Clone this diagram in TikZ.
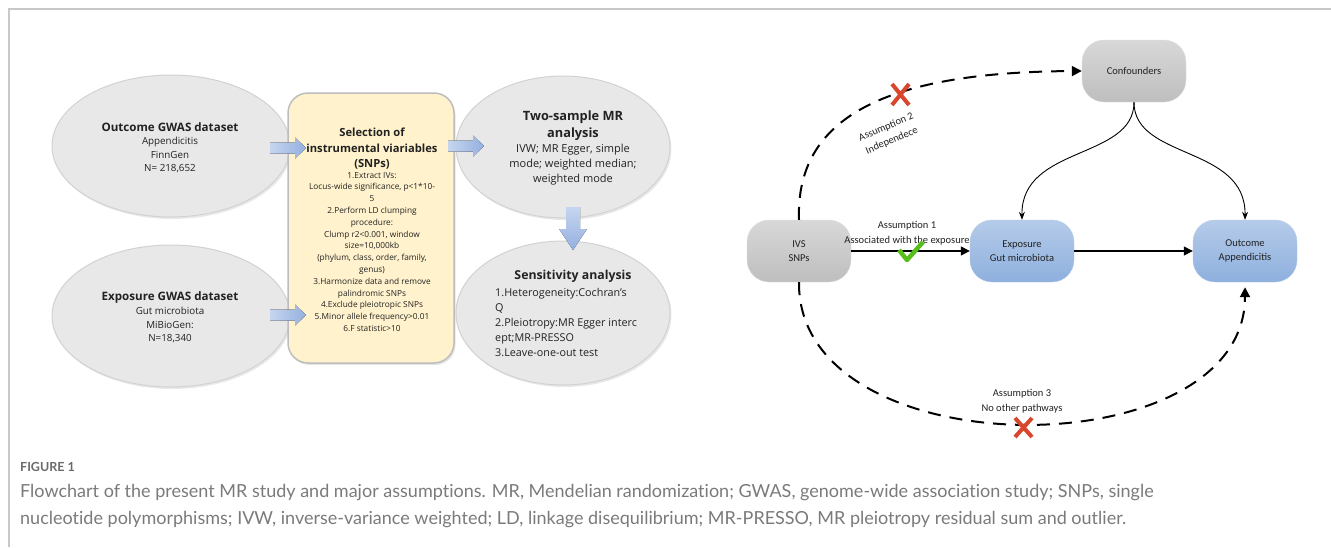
\documentclass[tikz,border=0pt]{standalone}
\usepackage{fontspec}
\setmainfont{Open Sans}
\newfontfamily\cali{Carlito}
\newfontfamily\capfont[Ligatures=NoCommon]{Lato}
\usetikzlibrary{shapes.geometric,arrows.meta,shadows}
\definecolor{ellfill}{HTML}{E8E8E8}
\definecolor{elldraw}{HTML}{D2D2D2}
\definecolor{yelfill}{HTML}{FFF2CC}
\definecolor{yeldraw}{HTML}{BDBDBD}
\definecolor{arrL}{HTML}{C6D5EF}
\definecolor{arrR}{HTML}{94B0DF}
\definecolor{grayT}{HTML}{D8D8D8}
\definecolor{grayB}{HTML}{BEBEBE}
\definecolor{blueT}{HTML}{B5CBE9}
\definecolor{blueB}{HTML}{8EB0DE}
\definecolor{xred}{HTML}{D8462C}
\definecolor{okgreen}{HTML}{57BE1C}
\definecolor{captext}{HTML}{7A7A7A}
\definecolor{capbold}{HTML}{6A6A6A}
\definecolor{framec}{HTML}{C8C8C8}
\definecolor{txt}{HTML}{222222}
\tikzset{
  ell/.style={ellipse, fill=ellfill, draw=elldraw, line width=1pt,
    drop shadow={opacity=0.18, shadow xshift=1.5pt, shadow yshift=-2pt}},
  selbox/.style={rectangle, rounded corners=20pt, fill=yelfill, draw=yeldraw, line width=1.5pt,
    drop shadow={opacity=0.2, shadow xshift=1.5pt, shadow yshift=-2pt}},
  rgray/.style={rectangle, rounded corners=22pt, minimum width=104pt, minimum height=62pt,
    top color=grayT, bottom color=grayB, draw=grayT!80, line width=0.4pt,
    font=\cali\fontsize{10.5}{14.5}\selectfont, text=txt, align=center},
  rblue/.style={rgray, top color=blueT, bottom color=blueB, draw=blueT},
  lbl/.style={font=\cali\fontsize{10.5}{14.5}\selectfont, text=txt, align=center, inner sep=0pt},
  ttl/.style={align=center, text=txt, inner sep=0pt},
  solidarr/.style={-{Triangle[length=9pt,width=9pt]}, line width=1.4pt, black},
  thinarr/.style={-{Stealth[length=8pt,width=6pt]}, line width=0.9pt, black},
  dasharr/.style={-{Triangle[length=10pt,width=10pt]}, line width=2pt, dash pattern=on 13pt off 9pt, black},
  xmark/.style={xred, line width=4pt, line cap=butt},
  blockfill/.style={left color=arrL, right color=arrR},
  blockfillv/.style={top color=arrL, bottom color=arrR},
  harrow/.pic={\fill[blockfill] (0,-5.5) -- (25,-5.5) -- (25,-10.5) -- (36,0) -- (25,10.5) -- (25,5.5) -- (0,5.5) -- cycle;},
  varrow/.pic={\fill[blockfillv] (-7,0) -- (-7,22) -- (-14,22) -- (0,43) -- (14,22) -- (7,22) -- (7,0) -- cycle;},
}
\begin{document}
\begin{tikzpicture}[x=1pt,y=-1pt]
\useasboundingbox (0,0) rectangle (1331,547);
\draw[framec, line width=1.2pt] (9,547) -- (9,9) -- (1331,9);

% left flowchart
\node[ell, minimum width=238pt, minimum height=142pt] (outds) at (171,146) {};
\node[ell, minimum width=238pt, minimum height=142pt] (expds) at (171,316) {};
\node[ell, minimum width=214pt, minimum height=142pt] (twos) at (563,147) {};
\node[ell, minimum width=214pt, minimum height=144pt] (sens) at (563,313) {};
\node[selbox, minimum width=166pt, minimum height=270pt] (sel) at (371,228) {};

\node[ttl, font=\fontsize{11.6}{15}\selectfont\bfseries] (outdst) at (170,127) {Outcome GWAS dataset};
\node[ttl, font=\fontsize{9.8}{13.5}\selectfont, anchor=north] (outdsb) at (170,137) {Appendicitis\\FinnGen\\N= 218,652};
\node[ttl, font=\fontsize{11.6}{15}\selectfont\bfseries] (expdst) at (170,297) {Exposure GWAS dataset};
\node[ttl, font=\fontsize{9.8}{13.5}\selectfont, anchor=north] (expdsb) at (170,307) {Gut microbiota\\MiBioGen:\\N=18,340};

\node[ttl, font=\fontsize{11.2}{15.5}\selectfont\bfseries] (selt) at (372,149) {Selection of\\instrumental viariables\\(SNPs)};
\node[ttl, font=\fontsize{8.3}{11.8}\selectfont, anchor=north] (selb) at (372,172)
 {1.Extract IVs:\\Locus-wide significance, p<1*10-\\5\\2.Perform LD clumping\\procedure:\\Clump r2<0.001, window\\size=10,000kb\\(phylum, class, order, family,\\genus)\\3.Harmonize data and remove\\palindromic SNPs\\4.Exclude pleiotropic SNPs\\5.Minor allele frequency>0.01\\6.F statistic>10};

\node[ttl, font=\fontsize{12.8}{17}\selectfont\bfseries] (twost) at (573,126) {Two-sample MR\\analysis};
\node[ttl, font=\fontsize{11}{15}\selectfont, anchor=north] (twosb) at (573,144) {IVW; MR Egger, simple\\mode; weighted median;\\weighted mode};

\node[ttl, font=\fontsize{12.3}{15}\selectfont\bfseries] (senst) at (573,276) {Sensitivity analysis};
\node[ttl, align=left, font=\fontsize{10.8}{15}\selectfont, anchor=north west] (sensb) at (495,288)
 {1.Heterogeneity:Cochran's\\Q\\2.Pleiotropy:MR Egger interc\\ept;MR-PRESSO\\3.Leave-one-out test};

\pic at (270,148) {harrow};
\pic at (270,315) {harrow};
\pic at (448,146) {harrow};
\pic at (573,207) {varrow};

% right diagram
\node[rgray] (conf) at (1134,71) {Confounders};
\node[rgray] (ivs) at (799,251) {IVS\\SNPs};
\node[rblue] (expo) at (1022,251) {Exposure\\Gut microbiota};
\node[rblue] (outc) at (1245,251) {Outcome\\Appendicitis};

\draw[solidarr] (ivs.east) -- (expo.west);
\draw[solidarr] (expo.east) -- (outc.west);
\draw[thinarr] (conf.south) .. controls (1134,160) and (1021,145) .. (expo.north);
\draw[thinarr] (conf.south) .. controls (1134,160) and (1246,145) .. (outc.north);
\draw[dasharr] (ivs.north) .. controls (795,110) and (900,72) .. (conf.west);
\draw[dasharr] (ivs.south) .. controls (797,470) and (1245,470) .. ([yshift=-5pt]outc.south);

\node[lbl, rotate=23] (a2) at (889,134) {Assumption 2\\Independece};
\node[lbl] (a1) at (907,233) {Assumption 1\\Associated with the exposure};
\node[lbl] (a3) at (1022,401) {Assumption 3\\No other pathways};

\draw[xmark] (892,84) -- (909,105) (909,84) -- (892,105);
\draw[xmark] (1015,418) -- (1032,437) (1032,418) -- (1015,437);
\draw[okgreen, line width=4.5pt, line join=round] (899,250) -- (907,260) -- (923,242);

% caption
\node[anchor=base west, inner sep=0pt, text=capbold, font=\capfont\bfseries\fontsize{12.5}{14}\selectfont] (fig) at (20,471) {FIGURE 1};
\node[anchor=base west, inner sep=0pt, text=captext, font=\capfont\fontsize{18}{22}\selectfont] (cap1) at (20,497) {Flowchart of the present MR study and major assumptions. MR, Mendelian randomization; GWAS, genome-wide association study; SNPs, single};
\node[anchor=base west, inner sep=0pt, text=captext, font=\capfont\fontsize{18}{22}\selectfont] (cap2) at (20,524) {nucleotide polymorphisms; IVW, inverse-variance weighted; LD, linkage disequilibrium; MR-PRESSO, MR pleiotropy residual sum and outlier.};
\end{tikzpicture}
\end{document}
